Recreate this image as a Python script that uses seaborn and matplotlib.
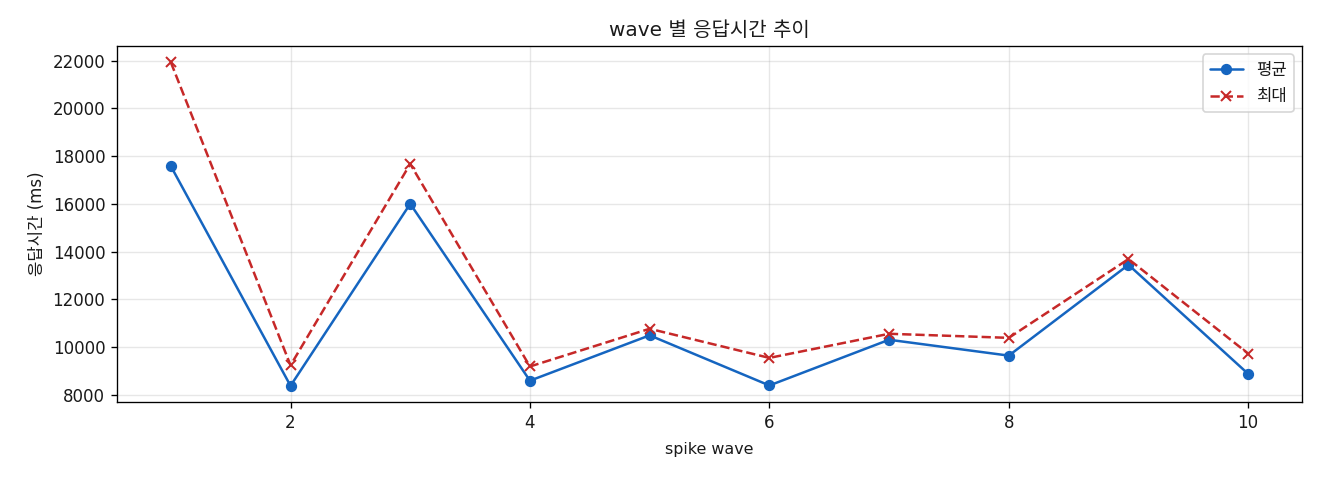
import matplotlib
matplotlib.use("Agg")
import matplotlib.pyplot as plt
import seaborn as sns
import pandas as pd

waves = [1, 2, 3, 4, 5, 6, 7, 8, 9, 10]
avg_ms = [17580, 8375, 16000, 8590, 10490, 8390, 10305, 9640, 13445, 8875]
max_ms = [21930, 9235, 17670, 9185, 10765, 9545, 10555, 10385, 13685, 9725]

sns.set_style("white")
plt.rcParams['font.family'] = ['DejaVu Sans', 'Noto Sans CJK KR']
plt.rcParams['axes.unicode_minus'] = False
plt.rcParams['text.color'] = '#1a1a1a'
plt.rcParams['axes.labelcolor'] = '#1a1a1a'

BLUE = "#1565C0"
RED = "#C62828"

fig, ax = plt.subplots(figsize=(11, 4), dpi=120)
df = pd.DataFrame({"wave": waves, "avg": avg_ms, "max": max_ms})
sns.lineplot(data=df, x="wave", y="avg", ax=ax, color=BLUE, marker="o",
             markersize=6, markeredgecolor=BLUE, markerfacecolor=BLUE,
             linewidth=1.5, label="평균")
sns.lineplot(data=df, x="wave", y="max", ax=ax, color=RED, marker="x",
             markersize=6, markeredgecolor=RED, markeredgewidth=1.2,
             linestyle="--", linewidth=1.5, label="최대")

ax.set_title("wave 별 응답시간 추이", fontsize=12)
ax.set_xlabel("spike wave", fontsize=9.5, labelpad=6)
ax.set_ylabel("응답시간 (ms)", fontsize=10)
ax.grid(True, alpha=0.3, color="#b0b0b0", linewidth=0.8)
for s in ax.spines.values():
    s.set_color("black")
    s.set_linewidth(0.8)
ax.tick_params(axis="both", which="both", direction="out", length=3.5, width=0.8,
               bottom=True, left=True, labelsize=10, colors="black",
               labelcolor="#1a1a1a")
ax.legend(loc="upper right", fontsize=10)
fig.subplots_adjust(left=0.0886, right=0.9864, top=0.904, bottom=0.1625)
fig.savefig("out.png", dpi=120)
